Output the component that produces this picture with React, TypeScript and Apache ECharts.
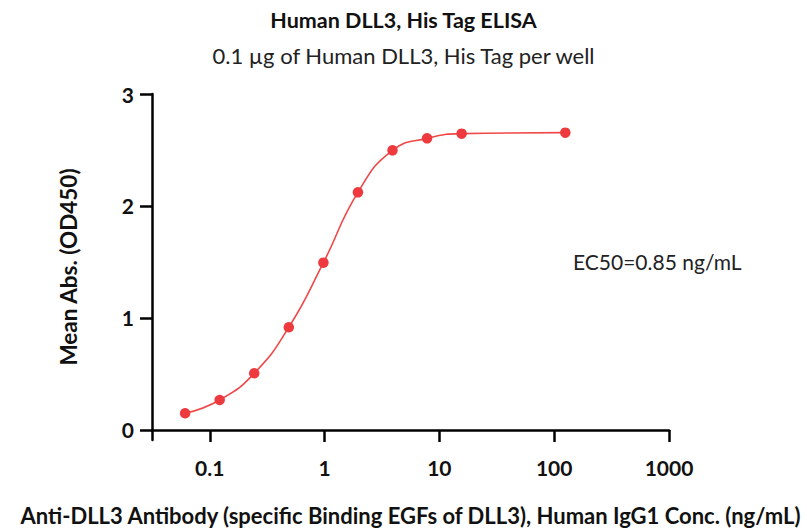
import React, { useEffect, useRef } from 'react';
import * as echarts from 'echarts';

// Antibody concentration (ng/mL) and mean absorbance
const concentrations = [0.061, 0.122, 0.244, 0.488, 0.977, 1.953, 3.906, 7.813, 15.625, 125];
const meanAbs = [0.149, 0.268, 0.506, 0.917, 1.494, 2.122, 2.497, 2.604, 2.646, 2.655];
const xTickValues = [0.1, 1, 10, 100, 1000];
const yTickValues = [0, 1, 2, 3];

const titleText = 'Human DLL3, His Tag ELISA';
const subtitleText = '0.1 µg of Human DLL3, His Tag per well';
const xAxisName = 'Anti-DLL3 Antibody (specific Binding EGFs of DLL3), Human IgG1 Conc. (ng/mL)';
const yAxisName = 'Mean Abs. (OD450)';
const ec50Text = 'EC50=0.85 ng/mL';

const FONT = 'Lato, "Open Sans", "Noto Sans", sans-serif';

export default function App() {
  const ref = useRef<HTMLDivElement>(null);
  useEffect(() => {
    if (!ref.current) return;
    const chart = echarts.init(ref.current, null, { renderer: 'svg' });
    const data = concentrations.map((c, i) => [c, meanAbs[i]]);
    const fmt = (v: any) => String(parseFloat(Number(v).toPrecision(6)));
    chart.setOption({
      animation: false,
      backgroundColor: '#ffffff',
      textStyle: { fontFamily: FONT },
      title: {
        text: titleText,
        subtext: subtitleText,
        left: 'center',
        top: 4,
        itemGap: 13,
        textStyle: { fontFamily: FONT, fontSize: 21.5, fontWeight: 'bold', color: '#111' },
        subtextStyle: { fontFamily: FONT, fontSize: 22, color: '#222' },
      },
      grid: { left: 152, right: 138, top: 94, bottom: 91, containLabel: false, outerBoundsMode: 'none' },
      xAxis: {
        type: 'log',
        logBase: 10,
        min: 0.0314,
        max: 1000,
        name: xAxisName,
        nameLocation: 'middle',
        nameGap: 64,
        nameTextStyle: { fontFamily: FONT, fontSize: 22, fontWeight: 'bold', color: '#111' },
        axisLine: { show: true, lineStyle: { color: '#000', width: 2.5 } },
        axisTick: { show: true, length: 12, lineStyle: { color: '#000', width: 2.5 }, customValues: xTickValues },
        axisLabel: { customValues: xTickValues, formatter: fmt, margin: 17, fontFamily: FONT, fontSize: 21, fontWeight: 'bold', color: '#111' },
        minorTick: { show: false },
        splitLine: { show: false },
      },
      yAxis: {
        type: 'value',
        min: -0.0893,
        max: 3,
        name: yAxisName,
        nameLocation: 'middle',
        nameGap: 72,
        nameRotate: 90,
        nameTextStyle: { fontFamily: FONT, fontSize: 22.5, fontWeight: 'bold', color: '#111' },
        axisLine: { show: true, lineStyle: { color: '#000', width: 2.5 } },
        axisTick: { show: true, length: 12, lineStyle: { color: '#000', width: 2.5 }, customValues: yTickValues },
        axisLabel: { customValues: yTickValues, formatter: fmt, margin: 18, fontFamily: FONT, fontSize: 21, fontWeight: 'bold', color: '#111' },
        splitLine: { show: false },
      },
      graphic: [
        {
          type: 'text',
          left: 573,
          top: 251,
          style: { text: ec50Text, fontFamily: FONT, fontSize: 21, fill: '#222' },
        },
      ],
      series: [
        {
          type: 'line',
          data,
          smooth: 0.5,
          symbol: 'circle',
          symbolSize: 10.5,
          showAllSymbol: true,
          lineStyle: { color: '#F04848', width: 1.6 },
          itemStyle: { color: '#EE3A3E' },
          z: 3,
        },
      ],
    });
    return () => chart.dispose();
  }, []);
  return <div ref={ref} style={{ position: 'fixed', left: 0, top: 0, width: 807, height: 531 }} />;
}
